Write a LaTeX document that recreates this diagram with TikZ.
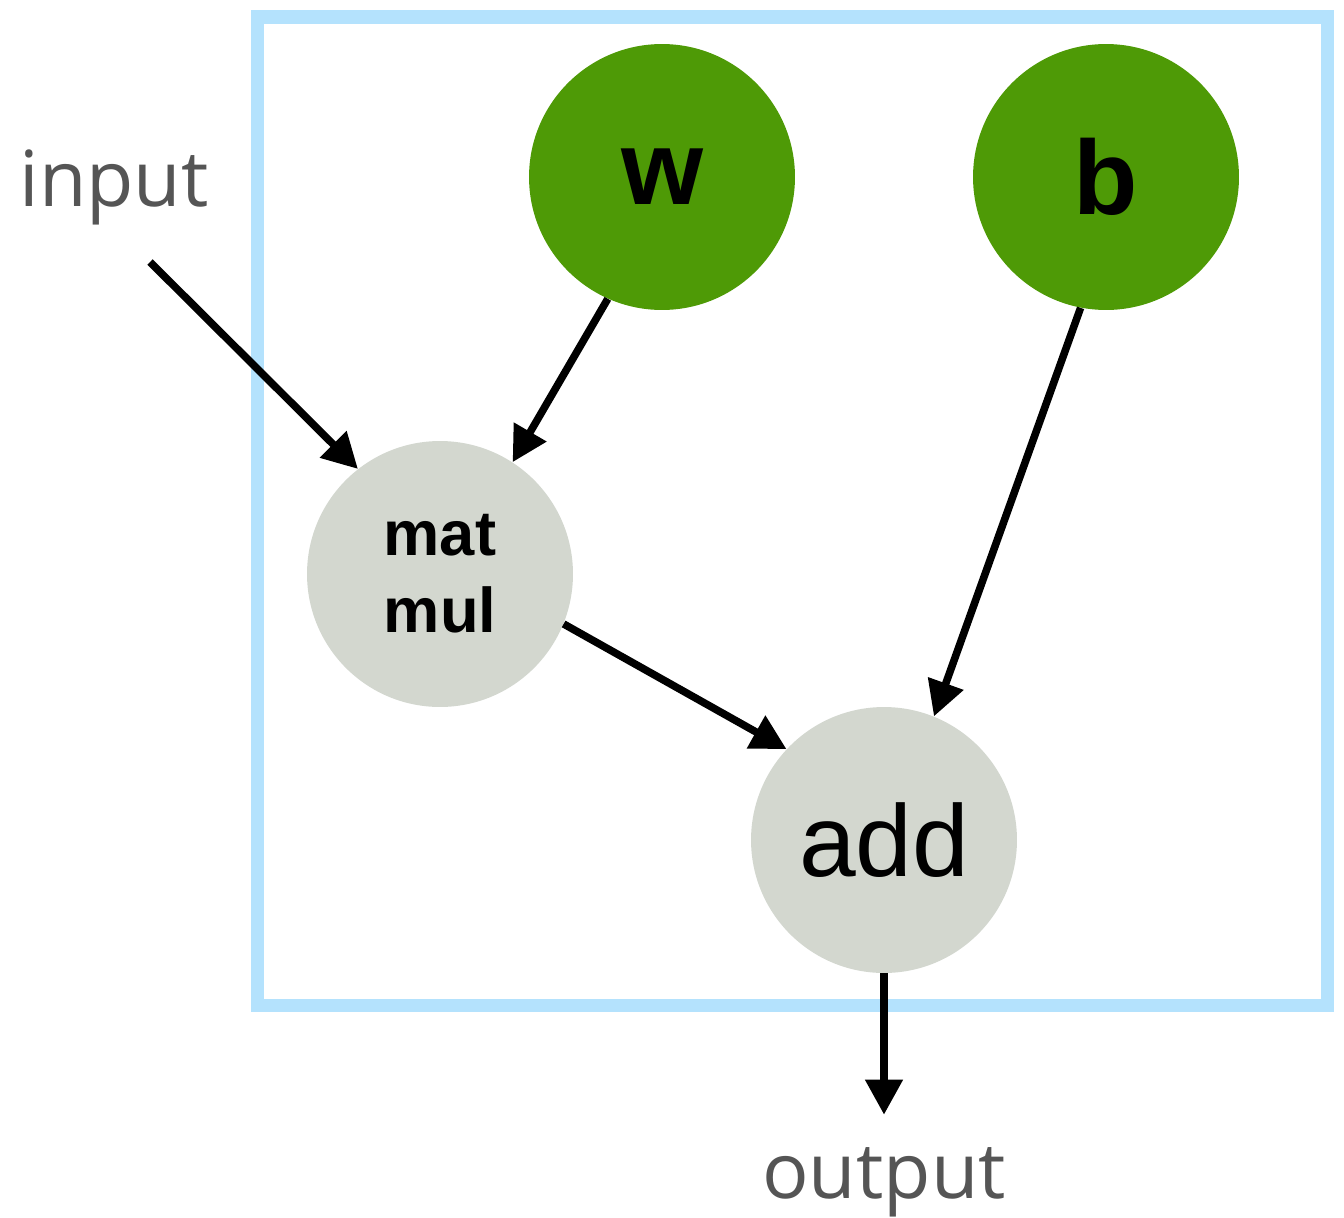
\documentclass[tikz,border=0pt]{standalone}
\usepackage{fontspec}
\setmainfont{Liberation Sans}
\newfontfamily\handfont{Open Sans}
\usetikzlibrary{arrows.meta}
\definecolor{leafgreen}{HTML}{4E9A06}
\definecolor{opgray}{HTML}{D3D7CF}
\definecolor{framebl}{HTML}{B4E2FD}
\definecolor{labelgray}{HTML}{555555}

\begin{document}
\begin{tikzpicture}
[
    x=0.02cm, y=-0.02cm,
    var/.style={circle, fill=leafgreen, minimum size=5.32cm, inner sep=0pt, font=\fontsize{60}{72}\selectfont\bfseries},
    op/.style={circle, fill=opgray, minimum size=5.32cm, inner sep=0pt, align=center},
    io/.style={anchor=base, inner sep=0pt, text=labelgray, font=\handfont\fontsize{44}{52}\selectfont},
    flow/.style={line width=4.3pt, -{Triangle[length=0.7cm, width=0.72cm]}},
]
\useasboundingbox (0,0) rectangle (1344,1217);
\draw[framebl, line width=7.4pt] (257.5,17) rectangle (1327.5,1005);

\node[var] (w) at (662,177) {w};
\node[var] (b) at (1106,177) {b};
\node[op, font=\fontsize{36}{44}\selectfont\bfseries] (matmul) at (440,574) {mat\\mul};
\node[op, font=\fontsize{58}{70}\selectfont] (add) at (884,840) {add};
\node[io] (input) at (114,206) {input};
\node[io] (output) at (884,1198) {output};
\coordinate (infeed) at (150,262);

\draw[flow] (infeed) -- (matmul.128);
\draw[flow] (w.-114) -- (matmul.57);
\draw[flow] (b.-101) -- (add.68);
\draw[flow] (matmul.-22) -- (add.137);
\draw[flow, shorten >=0.64cm] (add) -- (output);
\end{tikzpicture}
\end{document}
